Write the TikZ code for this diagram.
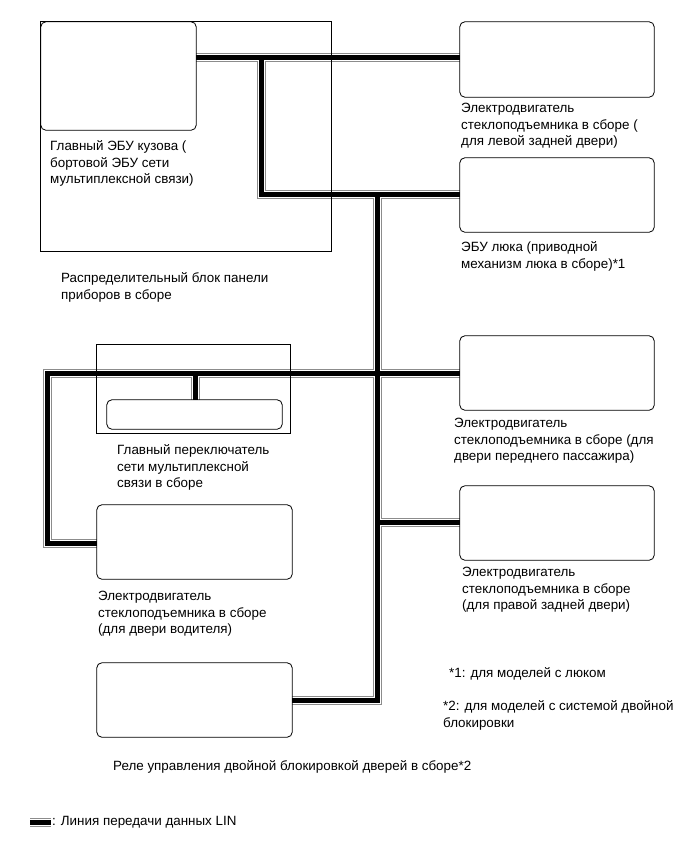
\documentclass[tikz,border=0pt]{standalone}
\usepackage{fontspec}
\setmainfont{Liberation Sans}
\begin{document}
\begin{tikzpicture}[x=1pt,y=-1pt,
  rbox/.style={draw=black,line width=0.8pt,rounded corners=5pt,inner sep=0pt,fill=none},
  sbox/.style={draw=black,line width=0.8pt,inner sep=0pt,fill=none},
  lbl/.style={anchor=base west,align=left,inner sep=0pt,font=\fontsize{13.4}{16.7}\selectfont},
  lingray/.style={draw=black!45,line width=9pt},
  linwhite/.style={draw=white,line width=7pt},
  linblack/.style={draw=black,line width=5pt,xshift=-0.7pt,yshift=0.7pt}]
\useasboundingbox (0,0) rectangle (691,855);

% box geometry (drawn later)
\node[inner sep=0pt,minimum width=155pt,minimum height=108pt] (ecu) at (118.5,76) {};
\node[inner sep=0pt,minimum width=194pt,minimum height=75pt] (lr) at (557,59.5) {};
\node[inner sep=0pt,minimum width=194pt,minimum height=74pt] (sun) at (557,195) {};
\node[inner sep=0pt,minimum width=194pt,minimum height=74pt] (pass) at (557,373) {};
\node[inner sep=0pt,minimum width=194pt,minimum height=74pt] (rr) at (557,523) {};
\node[inner sep=0pt,minimum width=193pt,minimum height=88pt] (msw) at (193.5,389) {};
\node[inner sep=0pt,minimum width=175pt,minimum height=29pt] (mswin) at (194.5,414.5) {};
\node[inner sep=0pt,minimum width=195pt,minimum height=74pt] (drv) at (194.5,542) {};
\node[inner sep=0pt,minimum width=195pt,minimum height=74pt] (relay) at (194.5,700) {};
\node[inner sep=0pt,minimum width=290pt,minimum height=229pt] (pdb) at (186,136.5) {};

% junctions and corners of the LIN bus
\coordinate (j1) at (261,57);
\coordinate (c1) at (261,194);
\coordinate (j2) at (377,194);
\coordinate (c2) at (377,700);
\coordinate (j3) at (377,373);
\coordinate (j4) at (377,522);
\coordinate (c3) at (47,373);
\coordinate (c4) at (47,543);
\coordinate (j5) at (195,373);
\coordinate (leg1) at (30,822);
\coordinate (leg2) at (51,822);

\def\linpaths#1{%
  \draw[#1] (ecu.east |- j1) -- (lr.west |- j1);
  \draw[#1] (j1) -- (c1) -- (sun.west |- c1);
  \draw[#1] (j2) -- (c2) -- (relay.east |- c2);
  \draw[#1] (pass.west |- j3) -- (c3) -- (c4) -- (drv.west |- c4);
  \draw[#1] (j5) -- (mswin.north -| j5);
  \draw[#1] (j4) -- (rr.west |- j4);
  \draw[#1] (leg1) -- (leg2);
}
\linpaths{lingray}
\linpaths{linwhite}
\linpaths{linblack}

% boxes
\draw[sbox] (pdb.north west) rectangle (pdb.south east);
\draw[rbox] (ecu.north west) rectangle (ecu.south east);
\draw[rbox] (lr.north west) rectangle (lr.south east);
\draw[rbox] (sun.north west) rectangle (sun.south east);
\draw[rbox] (pass.north west) rectangle (pass.south east);
\draw[rbox] (rr.north west) rectangle (rr.south east);
\draw[sbox] (msw.north west) rectangle (msw.south east);
\draw[rbox] (mswin.north west) rectangle (mswin.south east);
\draw[rbox] (drv.north west) rectangle (drv.south east);
\draw[rbox] (relay.north west) rectangle (relay.south east);

% labels (anchor = baseline of the last line)
\node[lbl] (tecu) at (50,183.9) {Главный ЭБУ кузова (\\бортовой ЭБУ сети\\мультиплексной связи)};
\node[lbl] (tpdb) at (61,299.2) {Распределительный блок панели\\приборов в сборе};
\node[lbl] (tlr) at (461,145.9) {Электродвигатель\\стеклоподъемника в сборе (\\для левой задней двери)};
\node[lbl] (tsun) at (461,268.2) {ЭБУ люка (приводной\\механизм люка в сборе)*1};
\node[lbl] (tmsw) at (117,487.9) {Главный переключатель\\сети мультиплексной\\связи в сборе};
\node[lbl] (tdrv) at (98,633.9) {Электродвигатель\\стеклоподъемника в сборе\\(для двери водителя)};
\node[lbl] (tpass) at (454,460.9) {Электродвигатель\\стеклоподъемника в сборе (для\\двери переднего пассажира)};
\node[lbl] (trr) at (462,609.9) {Электродвигатель\\стеклоподъемника в сборе\\(для правой задней двери)};
\node[lbl] (trelay) at (113,770.5) {Реле управления двойной блокировкой дверей в сборе*2};
\node[lbl] (tn1) at (449,677.5) {*1: для моделей с люком};
\node[lbl] (tn2) at (443,727.5) {*2: для моделей с системой двойной\\блокировки};
\node[lbl] (tleg) at (52,825.5) {: Линия передачи данных LIN};
\end{tikzpicture}
\end{document}
